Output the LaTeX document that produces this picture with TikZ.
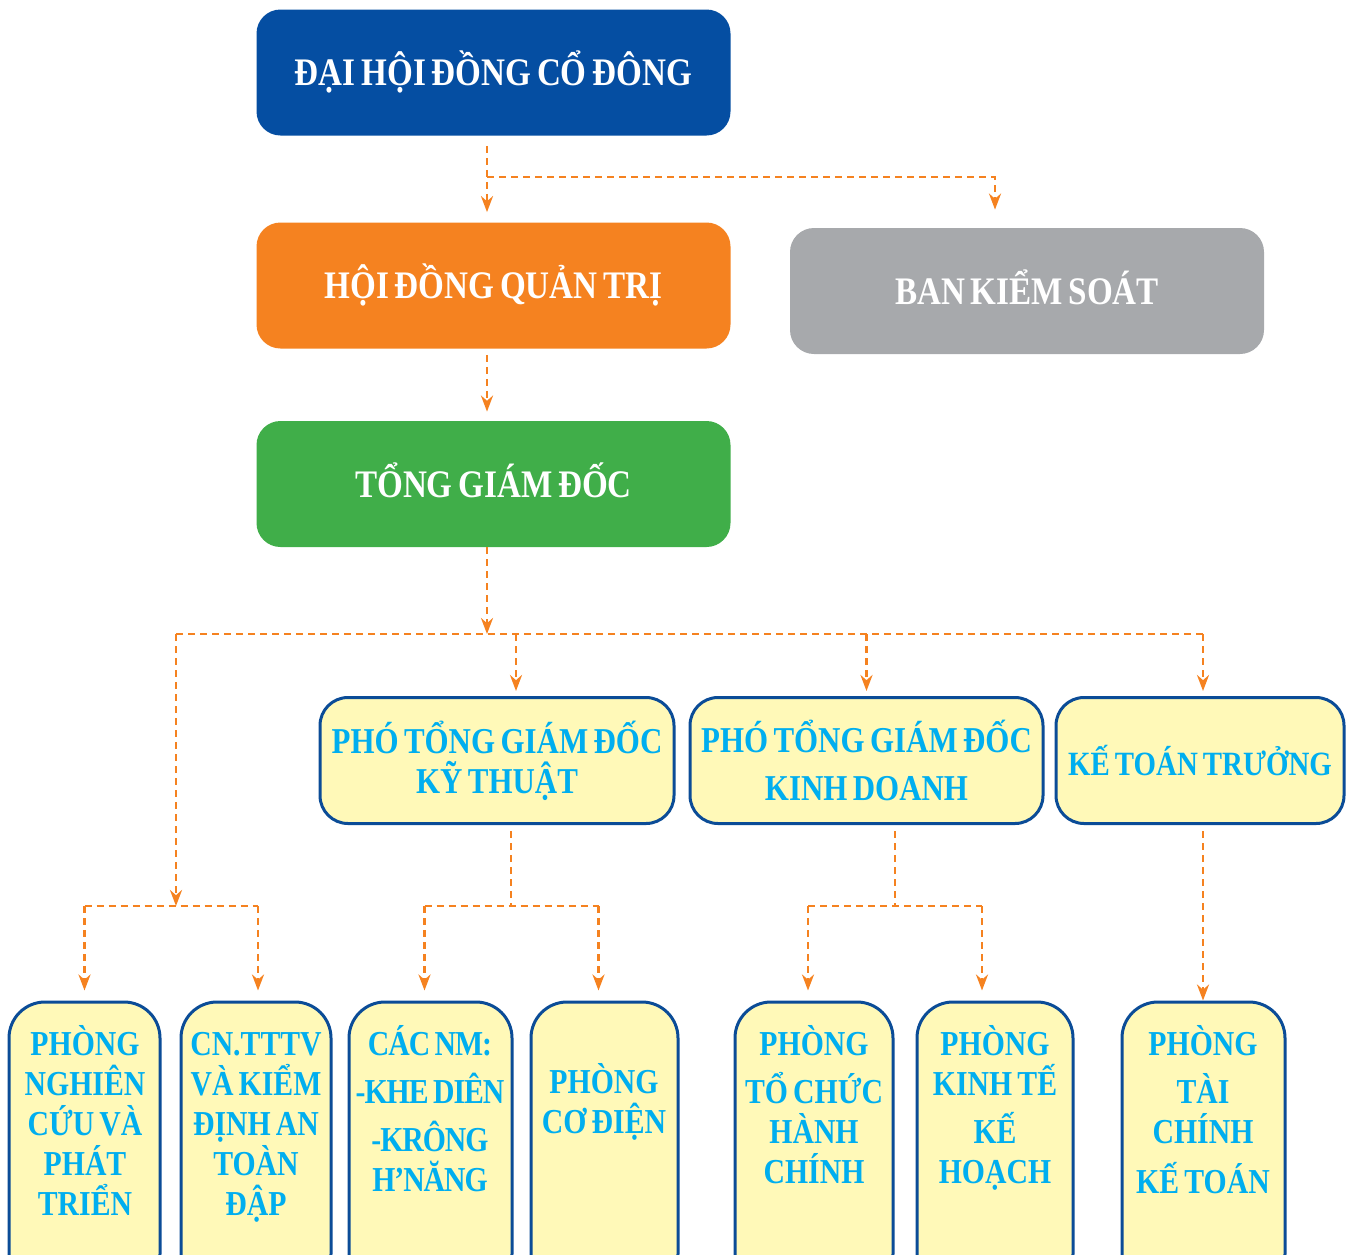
\documentclass[tikz,border=0pt]{standalone}
\usepackage		 {fontspec}
\setmainfont     {Liberation Serif}[FakeStretch=0.85,WordSpace=0.7]
\usetikzlibrary	 {arrows.meta}

\definecolor{hdblue}  {HTML}{054EA2}
\definecolor{hdorange}{HTML}{F58220}
\definecolor{hdgray}  {HTML}{A7A9AC}
\definecolor{hdgreen} {HTML}{40AE49}
\definecolor{boxfill} {HTML}{FFF9B8}
\definecolor{boxline} {HTML}{0B4C97}
\definecolor{txtcyan} {HTML}{00AEEF}

\begin{document}
\begin{tikzpicture}
  [x=.5pt,y=-.5pt,
   headbox/.style={rounded corners=12pt,minimum width=237pt,minimum height=63pt,inner sep=0pt,
                   text height=13pt,text depth=0pt,text=white,font=\bfseries\fontsize{19.5}{22}\selectfont},
   midbox/.style={draw=boxline,line width=1.5pt,fill=boxfill,rounded corners=14pt,minimum height=63pt,
                  inner sep=0pt,align=flush center,text=txtcyan,font=\bfseries\fontsize{18.2}{20}\selectfont},
   lowbox/.style={draw=boxline,line width=1.5pt,fill=boxfill,rounded corners=18pt,minimum height=144pt},
   lowtext/.style={anchor=base,text width=80pt,align=flush center,inner sep=0pt,
                   text=txtcyan,font=\bfseries\fontsize{17.5}{20}\selectfont},
   link/.style={draw=hdorange,line width=1.4pt,dash pattern=on 3.5pt off 2.5pt},
   arrowlink/.style={-{Stealth[length=8pt,width=6pt]}}]
  \useasboundingbox (0,0) rectangle (1350,1254);
  \clip (0,0) rectangle (1350,1254);

  \node[headbox,fill=hdblue]   (dhdcd) at (493.5,72.5)  {ĐẠI HỘI ĐỒNG CỔ ĐÔNG};
  \node[headbox,fill=hdorange] (hdqt)  at (493.5,285.5) {HỘI ĐỒNG QUẢN TRỊ};
  \node[headbox,fill=hdgray]   (bks)   at (1027,291)    {BAN KIỂM SOÁT};
  \node[headbox,fill=hdgreen]  (tgd)   at (493.5,484)   {TỔNG GIÁM ĐỐC};

  \node[midbox,minimum width=177pt]   (ptkt) at (497,760.5)   {PHÓ TỔNG GIÁM ĐỐC\\KỸ THUẬT};
  \node[midbox,minimum width=176.5pt] (ptkd) at (866.5,760.5) {PHÓ TỔNG GIÁM ĐỐC\\[4pt]KINH DOANH};
  \node[midbox,minimum width=144pt,font=\bfseries\fontsize{17}{20}\selectfont]
                                      (ktt)  at (1200,760.5)  {KẾ TOÁN TRƯỞNG};

  \node[lowbox,minimum width=75.5pt] (nc) at (84.5,1146)  {};
  \node[lowbox,minimum width=75pt]   (kd) at (256,1146)   {};
  \node[lowbox,minimum width=81.5pt] (nm) at (430.5,1146) {};
  \node[lowbox,minimum width=73.5pt] (cd) at (604.5,1146) {};
  \node[lowbox,minimum width=79pt]   (tc) at (814,1146)   {};
  \node[lowbox,minimum width=78pt]   (kh) at (995,1146)   {};
  \node[lowbox,minimum width=81.5pt] (tk) at (1203.5,1146) {};

  \node[lowtext] (nc-t) at (85,1055)   {PHÒNG\\NGHIÊN\\CỨU VÀ\\PHÁT\\TRIỂN};
  \node[lowtext] (kd-t) at (256,1055)  {CN.TTTV\\VÀ KIỂM\\ĐỊNH AN\\TOÀN\\ĐẬP};
  \node[lowtext,font=\bfseries\fontsize{17.5}{20}\selectfont\addfontfeature{LetterSpace=-3}]
                 (nm-t) at (430,1055)  {CÁC NM:\\[4pt]-KHE DIÊN\\[4pt]-KRÔNG\\H’NĂNG};
  \node[lowtext] (cd-t) at (604,1093)  {PHÒNG\\CƠ ĐIỆN};
  \node[lowtext] (tc-t) at (814,1055)  {PHÒNG\\[4pt]TỔ CHỨC\\HÀNH\\CHÍNH};
  \node[lowtext] (kh-t) at (995,1055)  {PHÒNG\\KINH TẾ\\[4pt]KẾ\\HOẠCH};
  \node[lowtext] (tk-t) at (1203,1055) {PHÒNG\\[4pt]TÀI\\CHÍNH\\[5pt]KẾ TOÁN};

  \coordinate (j1)   at (487,177);
  \coordinate (bus)  at (487,634);
  \coordinate (busl) at (176,634);
  \coordinate (busr) at (1203,634);
  \coordinate (bus2) at (176,906);
  \coordinate (kt2)  at (511,906);
  \coordinate (kd2)  at (895,906);

    \draw[link,arrowlink] ([xshift=-3.25pt,yshift=-5pt]dhdcd.south) -- ([xshift=-3.25pt,yshift=5pt]hdqt.north);
    \draw[link,arrowlink] (j1) -| ([xshift=-16pt,yshift=9pt]bks.north);
    \draw[link,arrowlink] ([xshift=-3.25pt,yshift=-3pt]hdqt.south) -- ([xshift=-3.25pt,yshift=4.5pt]tgd.north);
    \draw[link,arrowlink] ([xshift=-3.25pt]tgd.south) -- (bus);

    \draw[link] (busl) -- (busr);
    \draw[link,arrowlink] ([xshift=9.5pt]ptkt.north |- bus) -- ([xshift=9.5pt,yshift=2.5pt]ptkt.north);
    \draw[link,arrowlink] (ptkd.north |- bus) -- ([yshift=2.5pt]ptkd.north);
    \draw[link,arrowlink] (busr) -- ([xshift=1.5pt,yshift=2.5pt]ktt.north);
    \draw[link,arrowlink] (busl) -- (bus2);

    \draw[link] (nc.north |- bus2) -- ([xshift=1pt]kd.north |- bus2);
    \draw[link,arrowlink] (nc.north |- bus2) -- ([yshift=5pt]nc.north);
    \draw[link,arrowlink] ([xshift=1pt]kd.north |- bus2) -- ([xshift=1pt,yshift=5pt]kd.north);

    \draw[link] ([xshift=7pt,yshift=-3pt]ptkt.south) -- (kt2);
    \draw[link] ([xshift=-3pt]nm.north |- kt2) -- ([xshift=-3pt]cd.north |- kt2);
    \draw[link,arrowlink] ([xshift=-3pt]nm.north |- kt2) -- ([xshift=-3pt,yshift=5pt]nm.north);
    \draw[link,arrowlink] ([xshift=-3pt]cd.north |- kt2) -- ([xshift=-3pt,yshift=5pt]cd.north);

    \draw[link] ([xshift=14.25pt,yshift=-3pt]ptkd.south) -- (kd2);
    \draw[link] ([xshift=-3pt]tc.north |- kd2) -- ([xshift=-6.5pt]kh.north |- kd2);
    \draw[link,arrowlink] ([xshift=-3pt]tc.north |- kd2) -- ([xshift=-3pt,yshift=5pt]tc.north);
    \draw[link,arrowlink] ([xshift=-6.5pt]kh.north |- kd2) -- ([xshift=-6.5pt,yshift=5pt]kh.north);

    \draw[link,arrowlink] ([xshift=1.5pt,yshift=-3pt]ktt.south) -- ([xshift=1.5pt]ktt.south |- tk.north);

\end{tikzpicture}
\end{document}
